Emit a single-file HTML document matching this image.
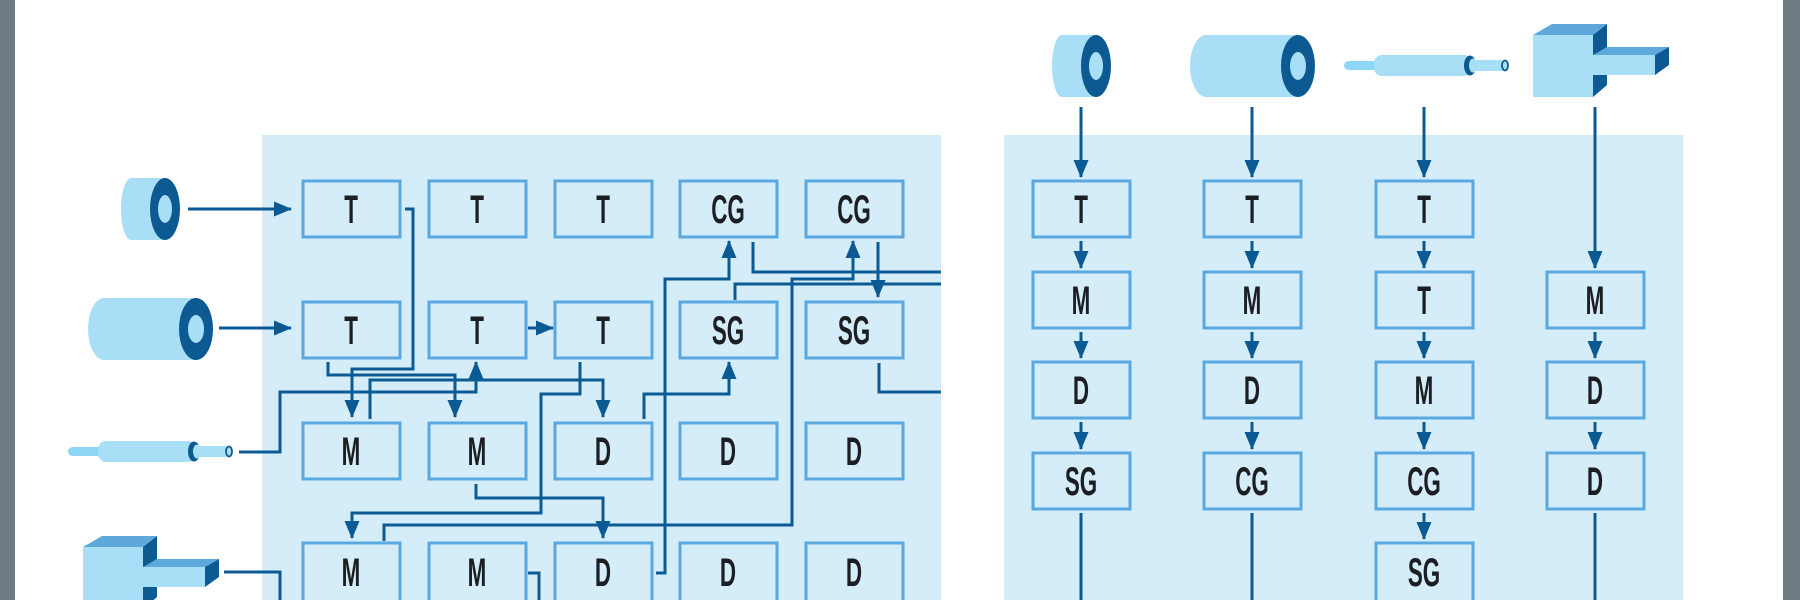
<!DOCTYPE html>
<html><head><meta charset="utf-8"><style>
html,body{margin:0;padding:0;background:#fff;}
svg{display:block;}
text{font-family:"Liberation Sans Narrow","Liberation Sans",sans-serif;font-weight:bold;font-size:40px;fill:#1b1e22;text-anchor:middle;transform-box:fill-box;transform-origin:center;transform:scaleX(0.56);}
</style></head><body>
<svg width="1800" height="600" viewBox="0 0 1800 600" xmlns="http://www.w3.org/2000/svg">
<defs>
<marker id="ah" markerUnits="userSpaceOnUse" markerWidth="18" markerHeight="16" refX="17" refY="8" orient="auto">
<path d="M0,0.5 L18,8 L0,15.5 Z" fill="#0b5a94"/>
</marker>
<g id="torus">
<ellipse cx="10" cy="31" rx="10" ry="31" fill="#a9def7"/>
<rect x="10" y="0" width="34" height="62" fill="#a9def7"/>
<ellipse cx="44" cy="31" rx="15" ry="31" fill="#0d5a92"/>
<ellipse cx="44" cy="31" rx="7" ry="14" fill="#a9def7"/>
</g>
<g id="cyl">
<ellipse cx="16" cy="31" rx="16" ry="31" fill="#a9def7"/>
<rect x="16" y="0" width="92" height="62" fill="#a9def7"/>
<ellipse cx="108" cy="31" rx="17" ry="31" fill="#0d5a92"/>
<ellipse cx="108" cy="31" rx="8" ry="14" fill="#a9def7"/>
</g>
<g id="pen">
<rect x="0" y="6" width="34" height="9" rx="4.5" fill="#8dd6f5"/>
<rect x="30" y="0" width="98" height="21" rx="8" fill="#a9def7"/>
<ellipse cx="126" cy="10.5" rx="6" ry="10" fill="#0d5a92"/>
<ellipse cx="129" cy="10.5" rx="4" ry="7" fill="#a9def7"/>
<rect x="128" y="5" width="30" height="11" fill="#a9def7"/>
<ellipse cx="161" cy="10.5" rx="3" ry="5" fill="#a9def7" stroke="#0d5a92" stroke-width="1.8"/>
</g>
<g id="robot">
<rect x="0" y="0" width="60" height="62" fill="#a9def7"/>
<polygon points="0,0 19,-11 74,-11 60,0" fill="#5fa8dc"/>
<polygon points="60,0 74,-11 74,50 60,62" fill="#0d5a92"/>
<rect x="60" y="20" width="62" height="20" fill="#a9def7"/>
<polygon points="60,20 74,12 136,12 122,20" fill="#5fa8dc"/>
<polygon points="122,20 136,12 136,30 122,40" fill="#0d5a92"/>
</g>
</defs>
<rect x="0" y="0" width="15" height="600" fill="#6f7a82"/>
<rect x="1783" y="0" width="17" height="600" fill="#6f7a82"/>
<rect x="262" y="135" width="679" height="465" fill="#d4edf9"/>
<rect x="1004" y="135" width="679" height="465" fill="#d4edf9"/>

<use href="#torus" x="121" y="178"/>
<use href="#cyl" x="88" y="298"/>
<use href="#pen" x="68" y="441"/>
<use href="#robot" x="83" y="547"/>
<use href="#torus" x="1052" y="35"/>
<use href="#cyl" x="1190" y="35"/>
<use href="#pen" x="1344" y="55"/>
<use href="#robot" x="1533" y="35"/>

<g fill="#d4edf9" stroke="#5aa8e0" stroke-width="3">
<rect x="303" y="181" width="97" height="56"/><rect x="429" y="181" width="97" height="56"/><rect x="555" y="181" width="97" height="56"/><rect x="680" y="181" width="97" height="56"/><rect x="806" y="181" width="97" height="56"/>
<rect x="303" y="302" width="97" height="56"/><rect x="429" y="302" width="97" height="56"/><rect x="555" y="302" width="97" height="56"/><rect x="680" y="302" width="97" height="56"/><rect x="806" y="302" width="97" height="56"/>
<rect x="303" y="423" width="97" height="56"/><rect x="429" y="423" width="97" height="56"/><rect x="555" y="423" width="97" height="56"/><rect x="680" y="423" width="97" height="56"/><rect x="806" y="423" width="97" height="56"/>
<rect x="303" y="543" width="97" height="60"/><rect x="429" y="543" width="97" height="60"/><rect x="555" y="543" width="97" height="60"/><rect x="680" y="543" width="97" height="60"/><rect x="806" y="543" width="97" height="60"/>
<rect x="1033" y="181" width="97" height="56"/><rect x="1204" y="181" width="97" height="56"/><rect x="1376" y="181" width="97" height="56"/>
<rect x="1033" y="272" width="97" height="56"/><rect x="1204" y="272" width="97" height="56"/><rect x="1376" y="272" width="97" height="56"/><rect x="1547" y="272" width="97" height="56"/>
<rect x="1033" y="362" width="97" height="56"/><rect x="1204" y="362" width="97" height="56"/><rect x="1376" y="362" width="97" height="56"/><rect x="1547" y="362" width="97" height="56"/>
<rect x="1033" y="453" width="97" height="56"/><rect x="1204" y="453" width="97" height="56"/><rect x="1376" y="453" width="97" height="56"/><rect x="1547" y="453" width="97" height="56"/>
<rect x="1376" y="543" width="97" height="60"/>
</g>

<g>
<text x="351" y="223">T</text><text x="477" y="223">T</text><text x="603" y="223">T</text><text x="728" y="223">CG</text><text x="854" y="223">CG</text>
<text x="351" y="344">T</text><text x="477" y="344">T</text><text x="603" y="344">T</text><text x="728" y="344">SG</text><text x="854" y="344">SG</text>
<text x="351" y="465">M</text><text x="477" y="465">M</text><text x="603" y="465">D</text><text x="728" y="465">D</text><text x="854" y="465">D</text>
<text x="351" y="586">M</text><text x="477" y="586">M</text><text x="603" y="586">D</text><text x="728" y="586">D</text><text x="854" y="586">D</text>
<text x="1081" y="223">T</text><text x="1252" y="223">T</text><text x="1424" y="223">T</text>
<text x="1081" y="314">M</text><text x="1252" y="314">M</text><text x="1424" y="314">T</text><text x="1595" y="314">M</text>
<text x="1081" y="404">D</text><text x="1252" y="404">D</text><text x="1424" y="404">M</text><text x="1595" y="404">D</text>
<text x="1081" y="495">SG</text><text x="1252" y="495">CG</text><text x="1424" y="495">CG</text><text x="1595" y="495">D</text>
<text x="1424" y="586">SG</text>
</g>

<g fill="none" stroke="#0b5a94" stroke-width="3">
<path d="M188,209 H291" marker-end="url(#ah)"/>
<path d="M219,328 H291" marker-end="url(#ah)"/>
<path d="M239,452 H280 V392 H476 V362" marker-end="url(#ah)"/>
<path d="M405,209 H413 V369 H352 V417" marker-end="url(#ah)"/>
<path d="M328,362 V375 H455 V417" marker-end="url(#ah)"/>
<path d="M370,419 V380 H603 V417" marker-end="url(#ah)"/>
<path d="M580,362 V394 H541 V513 H352 V538" marker-end="url(#ah)"/>
<path d="M528,328 H553" marker-end="url(#ah)"/>
<path d="M644,419 V394 H729 V362" marker-end="url(#ah)"/>
<path d="M656,573 H665 V279 H729 V241" marker-end="url(#ah)"/>
<path d="M476,484 V498 H603 V538" marker-end="url(#ah)"/>
<path d="M384,541 V525 H792 V279 H853 V241" marker-end="url(#ah)"/>
<path d="M753,242 V272 H941"/>
<path d="M735,300 V284 H941"/>
<path d="M878,242 V297" marker-end="url(#ah)"/>
<path d="M879,363 V392 H941"/>
<path d="M224,572 H280 V600"/>
<path d="M528,573 H539 V600"/>
<path d="M1081,107 V177" marker-end="url(#ah)"/>
<path d="M1252,107 V177" marker-end="url(#ah)"/>
<path d="M1424,107 V177" marker-end="url(#ah)"/>
<path d="M1595,107 V268" marker-end="url(#ah)"/>
<path d="M1081,241 V268" marker-end="url(#ah)"/><path d="M1252,241 V268" marker-end="url(#ah)"/><path d="M1424,241 V268" marker-end="url(#ah)"/>
<path d="M1081,332 V358" marker-end="url(#ah)"/><path d="M1252,332 V358" marker-end="url(#ah)"/><path d="M1424,332 V358" marker-end="url(#ah)"/><path d="M1595,332 V358" marker-end="url(#ah)"/>
<path d="M1081,422 V449" marker-end="url(#ah)"/><path d="M1252,422 V449" marker-end="url(#ah)"/><path d="M1424,422 V449" marker-end="url(#ah)"/><path d="M1595,422 V449" marker-end="url(#ah)"/>
<path d="M1424,513 V539" marker-end="url(#ah)"/>
<path d="M1081,513 V600"/><path d="M1252,513 V600"/><path d="M1595,513 V600"/>
</g>
</svg>
</body></html>
